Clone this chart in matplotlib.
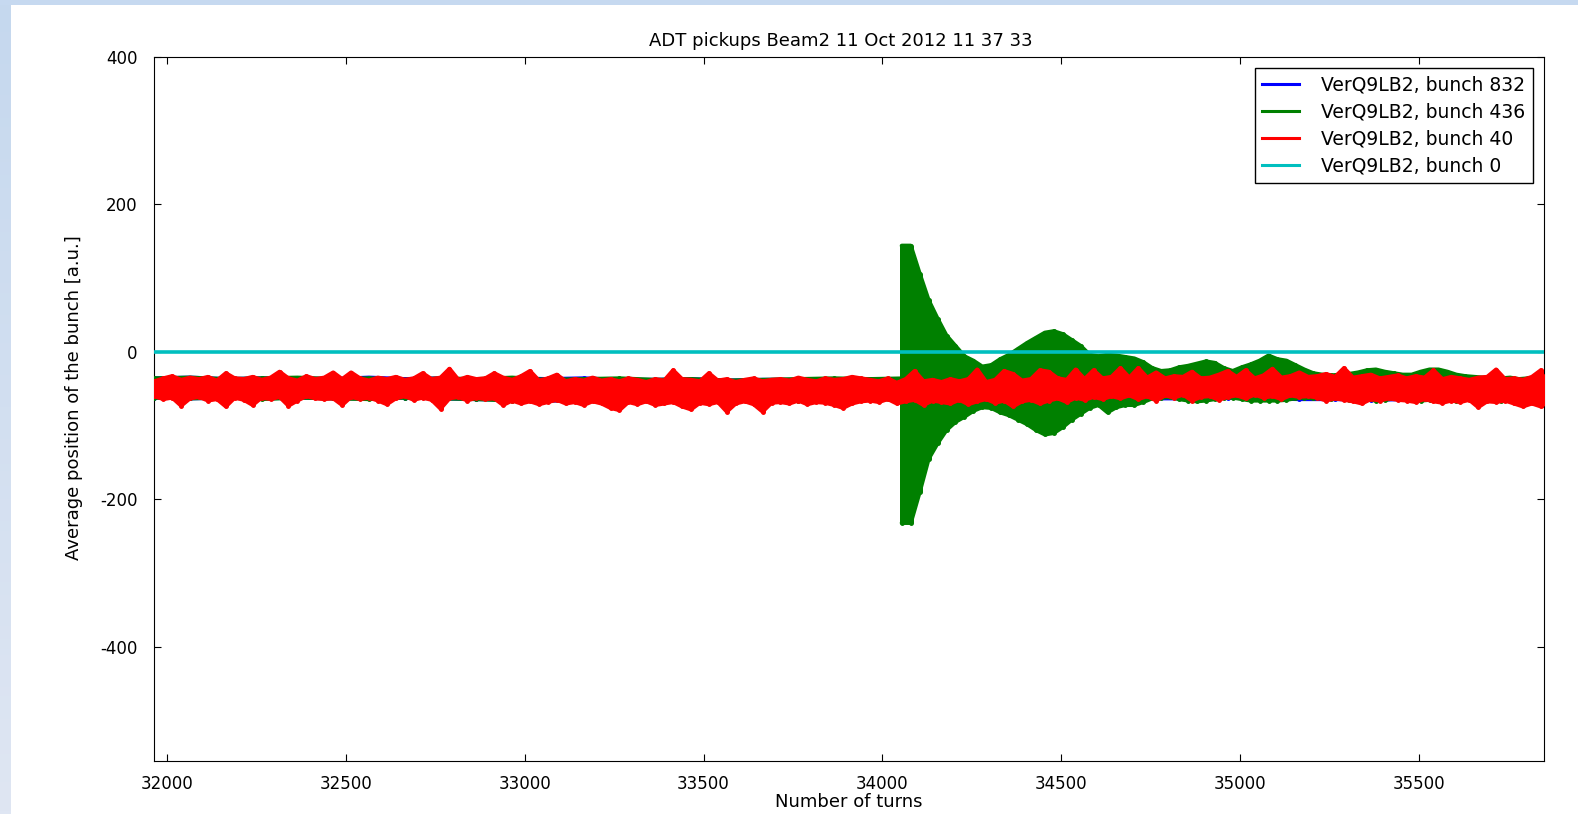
import matplotlib
matplotlib.use("Agg")
import matplotlib.pyplot as plt
from matplotlib.lines import Line2D
import numpy as np

# turn grids
turns = np.arange(31965, 35866, 25)          # red (bunch 40)
pre_turns = np.arange(31965, 34066, 100)     # green before the kick
burst_turns = np.arange(34054, 35866, 25)    # green after the kick
blue_turns = np.arange(31965, 35866, 100)    # blue (bunch 832)

# bunch 40 : band upper / lower edge
red_hi = [-40, -36, -33, -38, -35, -37, -34, -39, -29, -36,
          -37, -34, -38, -35, -27, -36, -39, -33, -37, -35,
          -28, -37, -28, -36, -39, -35, -37, -34, -38, -36,
          -29, -37, -35, -23, -38, -34, -37, -36, -29, -35,
          -38, -33, -26, -39, -36, -31, -40, -37, -39, -35,
          -39, -37, -40, -36, -38, -41, -37, -39, -25, -37,
          -38, -40, -29, -39, -37, -41, -38, -36, -40, -38,
          -37, -39, -35, -38, -40, -36, -38, -37, -34, -36,
          -38, -40, -36, -42, -37, -26, -40, -38, -41, -37,
          -40, -37, -24, -41, -38, -26, -30, -39, -37, -25,
          -27, -36, -38, -24, -37, -25, -36, -34, -22, -35,
          -22, -35, -28, -36, -33, -34, -27, -36, -35, -31,
          -26, -34, -25, -36, -32, -23, -35, -33, -28, -34,
          -33, -30, -34, -22, -35, -33, -31, -36, -34, -32,
          -36, -33, -35, -25, -37, -34, -36, -38, -35, -34,
          -24, -37, -36, -38, -34, -25, -38]
red_lo = [-60, -64, -62, -73, -63, -61, -66, -64, -74, -62,
          -65, -72, -62, -64, -61, -73, -66, -60, -63, -64,
          -63, -72, -61, -64, -62, -66, -71, -63, -60, -65,
          -62, -65, -77, -63, -61, -66, -62, -64, -63, -72,
          -66, -70, -67, -71, -68, -65, -70, -68, -72, -67,
          -70, -76, -79, -68, -71, -67, -72, -70, -68, -74,
          -78, -69, -71, -68, -81, -70, -67, -71, -81, -69,
          -68, -70, -66, -71, -68, -69, -72, -76, -70, -67,
          -66, -68, -64, -70, -67, -65, -72, -66, -68, -70,
          -65, -71, -67, -64, -69, -66, -74, -67, -65, -70,
          -66, -63, -68, -62, -65, -61, -64, -60, -63, -59,
          -64, -60, -66, -59, -62, -58, -66, -61, -60, -65,
          -61, -59, -63, -58, -62, -60, -64, -59, -61, -60,
          -62, -66, -63, -65, -67, -70, -64, -66, -63, -65,
          -66, -68, -64, -67, -69, -66, -68, -65, -75, -67,
          -68, -66, -70, -74, -70, -74, -72]

# bunch 436 before the kick
pre_hi = [-36, -35, -37, -36, -35, -37, -36, -38, -36, -37, -35,
          -38, -37, -36, -38, -37, -39, -38, -37, -36, -37, -36]
pre_lo = [-62, -63, -62, -64, -62, -63, -64, -62, -63, -64, -66,
          -65, -67, -66, -65, -67, -66, -65, -66, -64, -65, -64]

# bunch 436 oscillation envelope after the kick
burst_hi = [144, 144, 106, 70, 45, 22, 8, -6, -12, -20,
            -18, -10, -4, 4, 12, 19, 26, 28, 24, 16,
            8, -4, -6, -4, -5, -7, -9, -14, -22, -26,
            -25, -21, -19, -16, -13, -15, -22, -26, -21, -17,
            -12, -5, -10, -12, -18, -24, -29, -31, -32, -31,
            -30, -28, -25, -24, -27, -29, -31, -31, -27, -24,
            -24, -27, -31, -33, -34, -35, -34, -36, -35, -37,
            -36, -38, -38]
burst_lo = [-232, -232, -190, -145, -124, -106, -95, -88, -80, -75,
            -76, -82, -86, -92, -98, -106, -112, -110, -102, -92,
            -84, -76, -72, -82, -75, -72, -72, -68, -63, -62,
            -61, -64, -66, -67, -66, -64, -62, -62, -64, -66,
            -66, -66, -66, -65, -63, -62, -63, -62, -64, -63,
            -65, -66, -64, -66, -65, -63, -62, -64, -66, -65,
            -63, -64, -66, -64, -63, -65, -64, -66, -65, -64,
            -66, -65, -67]

# bunch 832
blue_hi = [-36, -35, -37, -36, -36, -37, -35, -37, -36, -38,
           -36, -37, -36, -38, -38, -37, -39, -38, -38, -37,
           -37, -38, -38, -37, -38, -39, -38, -37, -38, -38,
           -39, -38, -39, -39, -38, -39, -40, -39, -40, -41]
blue_lo = [-62, -63, -62, -63, -62, -63, -63, -62, -63, -64,
           -65, -66, -66, -65, -66, -67, -66, -66, -65, -65,
           -64, -63, -62, -62, -62, -63, -62, -62, -63, -63,
           -62, -63, -64, -64, -65, -64, -65, -65, -66, -66]

# bunch 0
zero_turns = [31965, 35865]
zero_pos = [0.0, 0.0]

labels = ["VerQ9LB2, bunch 832", "VerQ9LB2, bunch 436",
          "VerQ9LB2, bunch 40", "VerQ9LB2, bunch 0"]
colors = ["#0000ff", "#008000", "#ff0000", "#00bfbf"]

plt.rcParams['font.family'] = ['DejaVu Sans']
plt.rcParams['font.size'] = 12
plt.rcParams['axes.unicode_minus'] = False


def draw_band(ax, x, lo, hi, color, z, lw=3):
    # thick noisy trace: filled envelope, rounded edges and one stroke per sample
    ax.fill_between(x, lo, hi, color=color, lw=0, zorder=z)
    for edge in (hi, lo):
        ax.plot(x, edge, color=color, lw=lw, zorder=z,
                solid_joinstyle='round', solid_capstyle='round')
    ax.vlines(x, lo, hi, color=color, lw=3.6, zorder=z, capstyle='round')


fig = plt.figure(figsize=(15.78, 8.14), dpi=100)

# light blue slide border (left + top)
W, H = 1578, 814
bx = fig.add_axes([0, 0, 11 / W, 1])
grad = np.linspace(0, 1, 256).reshape(-1, 1)
bx.imshow(grad, aspect='auto', extent=[0, 1, 0, 1], origin='lower',
          cmap=matplotlib.colors.LinearSegmentedColormap.from_list(
              'side', ['#dfe6f3', '#c5d8ee']))
bx.axis('off')
tx = fig.add_axes([0, 1 - 5 / H, 1, 5 / H])
tx.set_facecolor('#c6d9f0')
tx.set_xticks([])
tx.set_yticks([])
for s in tx.spines.values():
    s.set_visible(False)

ax = fig.add_axes([154.3 / W, 53 / H, (1543.7 - 154.3) / W, (761 - 57) / H])

draw_band(ax, blue_turns, blue_lo, blue_hi, colors[0], 2)
draw_band(ax, pre_turns, pre_lo, pre_hi, colors[1], 3)
draw_band(ax, burst_turns, burst_lo, burst_hi, colors[1], 3)
draw_band(ax, turns, red_lo, red_hi, colors[2], 4)
ax.plot(zero_turns, zero_pos, color=colors[3], lw=2.6, zorder=5)

ax.set_xlim(31965, 35848)
ax.set_ylim(-555, 400)
ax.set_xticks([32000, 32500, 33000, 33500, 34000, 34500, 35000, 35500])
ax.set_yticks([-400, -200, 0, 200, 400])
ax.tick_params(direction='in', top=True, right=True, length=5, width=0.8)
ax.tick_params(axis='x', pad=10)
ax.tick_params(axis='y', pad=12)

ax.set_title("ADT pickups Beam2 11 Oct 2012 11 37 33", fontsize=13, pad=8,
             x=0.4942)
ax.set_xlabel("Number of turns", fontsize=13, labelpad=0)
ax.set_ylabel("Average position of the bunch [a.u.]", fontsize=13)
ax.yaxis.set_label_coords(-0.0513, 0.516)

handles = [Line2D([], [], color=c, lw=2.2) for c in colors]
leg = ax.legend(handles, labels, loc='upper right', fancybox=False,
                edgecolor='black', framealpha=1, fontsize=13.5,
                handlelength=1.95, handletextpad=1.2, labelspacing=0.43,
                borderpad=0.4, borderaxespad=0.58)
leg.get_frame().set_linewidth(1.0)

fig.savefig("out.png", dpi=100)
